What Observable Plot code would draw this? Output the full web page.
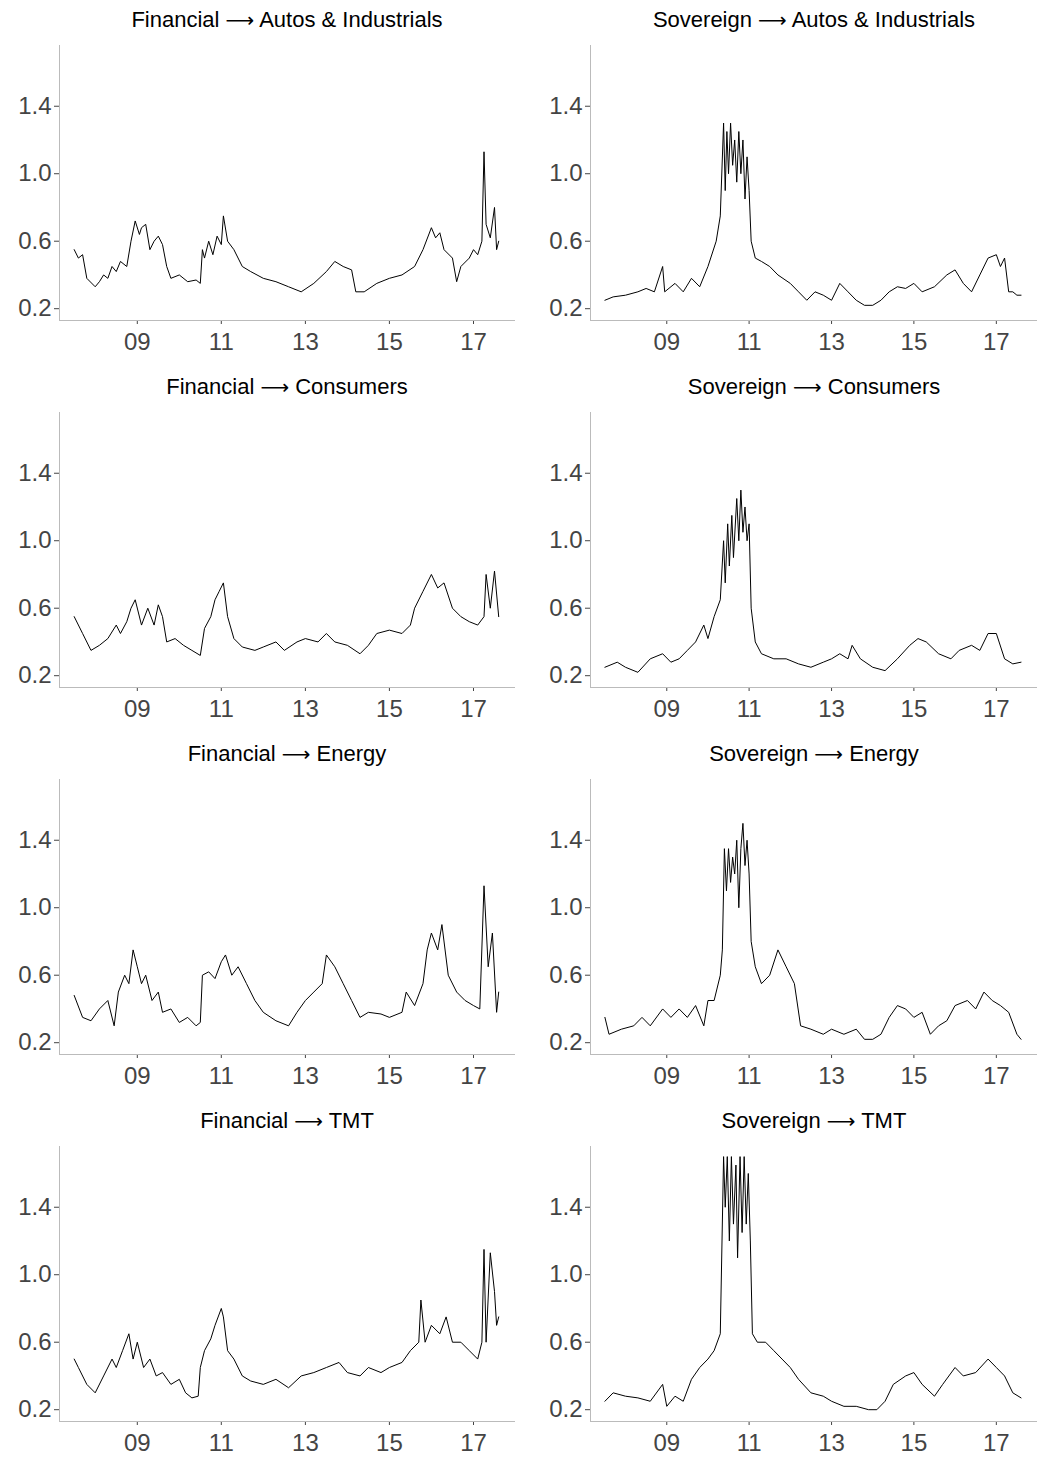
<!DOCTYPE html>
<html><head><meta charset="utf-8">
<script src="https://cdn.jsdelivr.net/npm/d3@7"></script>
<script src="https://cdn.jsdelivr.net/npm/@observablehq/plot@0.6"></script>
<style>
body{margin:0;background:#fff;font-family:Arial,"Liberation Sans",sans-serif;}
#grid{display:grid;grid-template-columns:519px 519px;width:1038px;}
.panel{height:367px;}
.title{height:38px;line-height:40px;text-align:center;font-size:22px;color:#000;}
.title .arr{font-family:"DejaVu Sans",sans-serif;font-size:20px}
.panel.l .title{padding-left:59px;padding-right:4px}
.panel.r .title{padding-left:71px}
</style></head><body><div id="grid"></div>
<script>
const titleFrom=["Financial","Sovereign","Financial","Sovereign","Financial","Sovereign","Financial","Sovereign"];
const titleTo=["Autos & Industrials","Autos & Industrials","Consumers","Consumers","Energy","Energy","TMT","TMT"];
const yTicks=[0.2,0.6,1.0,1.4];
const xTickYears=[2009,2011,2013,2015,2017];
const finAutos=[[2007.5,0.55],[2007.6,0.5],[2007.7,0.52],[2007.8,0.38],[2008.0,0.33],[2008.1,0.36],[2008.2,0.4],[2008.3,0.38],[2008.4,0.45],[2008.5,0.42],[2008.6,0.48],[2008.75,0.45],[2008.85,0.6],[2008.95,0.72],[2009.05,0.64],[2009.1,0.68],[2009.2,0.7],[2009.3,0.55],[2009.4,0.6],[2009.5,0.63],[2009.6,0.58],[2009.7,0.45],[2009.8,0.38],[2010.0,0.4],[2010.2,0.36],[2010.4,0.37],[2010.5,0.35],[2010.55,0.55],[2010.6,0.5],[2010.7,0.6],[2010.8,0.52],[2010.9,0.63],[2011.0,0.58],[2011.05,0.75],[2011.15,0.6],[2011.3,0.55],[2011.5,0.45],[2011.7,0.42],[2012.0,0.38],[2012.3,0.36],[2012.6,0.33],[2012.9,0.3],[2013.2,0.35],[2013.5,0.42],[2013.7,0.48],[2013.9,0.45],[2014.1,0.43],[2014.2,0.3],[2014.4,0.3],[2014.7,0.35],[2015.0,0.38],[2015.3,0.4],[2015.6,0.45],[2015.8,0.55],[2016.0,0.68],[2016.1,0.62],[2016.2,0.65],[2016.3,0.55],[2016.5,0.5],[2016.6,0.36],[2016.7,0.45],[2016.9,0.5],[2017.0,0.55],[2017.1,0.52],[2017.2,0.6],[2017.25,1.13],[2017.3,0.7],[2017.4,0.62],[2017.5,0.8],[2017.55,0.55],[2017.6,0.6]];
const sovAutos=[[2007.5,0.25],[2007.7,0.27],[2008.0,0.28],[2008.3,0.3],[2008.5,0.32],[2008.7,0.3],[2008.9,0.45],[2008.95,0.3],[2009.2,0.35],[2009.4,0.3],[2009.6,0.38],[2009.8,0.33],[2010.0,0.45],[2010.2,0.6],[2010.3,0.75],[2010.38,1.3],[2010.42,0.9],[2010.46,1.25],[2010.5,1.0],[2010.55,1.3],[2010.6,1.05],[2010.65,1.2],[2010.7,0.95],[2010.75,1.25],[2010.8,1.0],[2010.85,1.2],[2010.9,0.85],[2010.95,1.1],[2011.0,0.9],[2011.05,0.6],[2011.15,0.5],[2011.3,0.48],[2011.5,0.45],[2011.7,0.4],[2012.0,0.35],[2012.2,0.3],[2012.4,0.25],[2012.6,0.3],[2012.8,0.28],[2013.0,0.25],[2013.2,0.35],[2013.4,0.3],[2013.6,0.25],[2013.8,0.22],[2014.0,0.22],[2014.2,0.25],[2014.4,0.3],[2014.6,0.33],[2014.8,0.32],[2015.0,0.35],[2015.2,0.3],[2015.5,0.33],[2015.8,0.4],[2016.0,0.43],[2016.2,0.35],[2016.4,0.3],[2016.6,0.4],[2016.8,0.5],[2017.0,0.52],[2017.1,0.45],[2017.2,0.5],[2017.3,0.3],[2017.4,0.3],[2017.5,0.28],[2017.6,0.28]];
const finCons=[[2007.5,0.55],[2007.7,0.45],[2007.9,0.35],[2008.1,0.38],[2008.3,0.42],[2008.5,0.5],[2008.6,0.45],[2008.75,0.52],[2008.85,0.6],[2008.95,0.65],[2009.1,0.5],[2009.25,0.6],[2009.4,0.5],[2009.5,0.62],[2009.6,0.55],[2009.7,0.4],[2009.9,0.42],[2010.1,0.38],[2010.3,0.35],[2010.5,0.32],[2010.6,0.48],[2010.75,0.55],[2010.85,0.65],[2010.95,0.7],[2011.05,0.75],[2011.15,0.55],[2011.3,0.42],[2011.5,0.37],[2011.8,0.35],[2012.0,0.37],[2012.3,0.4],[2012.5,0.35],[2012.8,0.4],[2013.0,0.42],[2013.3,0.4],[2013.5,0.45],[2013.7,0.4],[2014.0,0.38],[2014.3,0.33],[2014.5,0.38],[2014.7,0.45],[2015.0,0.47],[2015.3,0.45],[2015.5,0.5],[2015.6,0.6],[2015.8,0.7],[2016.0,0.8],[2016.15,0.72],[2016.3,0.75],[2016.5,0.6],[2016.7,0.55],[2016.9,0.52],[2017.1,0.5],[2017.25,0.55],[2017.3,0.8],[2017.4,0.6],[2017.5,0.82],[2017.6,0.55]];
const sovCons=[[2007.5,0.25],[2007.8,0.28],[2008.0,0.25],[2008.3,0.22],[2008.6,0.3],[2008.9,0.33],[2009.1,0.28],[2009.3,0.3],[2009.5,0.35],[2009.7,0.4],[2009.9,0.5],[2010.0,0.42],[2010.15,0.55],[2010.3,0.65],[2010.38,1.0],[2010.42,0.75],[2010.48,1.1],[2010.52,0.85],[2010.58,1.15],[2010.62,0.9],[2010.7,1.25],[2010.75,1.0],[2010.8,1.3],[2010.85,1.05],[2010.9,1.2],[2010.95,1.0],[2011.0,1.1],[2011.05,0.6],[2011.15,0.4],[2011.3,0.33],[2011.6,0.3],[2011.9,0.3],[2012.2,0.27],[2012.5,0.25],[2012.8,0.28],[2013.0,0.3],[2013.2,0.33],[2013.4,0.3],[2013.5,0.38],[2013.7,0.3],[2014.0,0.25],[2014.3,0.23],[2014.6,0.3],[2014.9,0.38],[2015.1,0.42],[2015.3,0.4],[2015.6,0.33],[2015.9,0.3],[2016.1,0.35],[2016.4,0.38],[2016.6,0.35],[2016.8,0.45],[2017.0,0.45],[2017.2,0.3],[2017.4,0.27],[2017.6,0.28]];
const finEnergy=[[2007.5,0.48],[2007.7,0.35],[2007.9,0.33],[2008.1,0.4],[2008.3,0.45],[2008.45,0.3],[2008.55,0.5],[2008.7,0.6],[2008.8,0.55],[2008.9,0.75],[2009.0,0.65],[2009.1,0.55],[2009.2,0.6],[2009.35,0.45],[2009.5,0.5],[2009.6,0.38],[2009.8,0.4],[2010.0,0.32],[2010.2,0.35],[2010.4,0.3],[2010.5,0.32],[2010.55,0.6],[2010.7,0.62],[2010.85,0.58],[2011.0,0.68],[2011.1,0.72],[2011.25,0.6],[2011.4,0.65],[2011.6,0.55],[2011.8,0.45],[2012.0,0.38],[2012.3,0.33],[2012.6,0.3],[2012.8,0.38],[2013.0,0.45],[2013.2,0.5],[2013.4,0.55],[2013.5,0.72],[2013.7,0.65],[2013.9,0.55],[2014.1,0.45],[2014.3,0.35],[2014.5,0.38],[2014.8,0.37],[2015.0,0.35],[2015.3,0.38],[2015.4,0.5],[2015.6,0.42],[2015.8,0.55],[2015.9,0.75],[2016.0,0.85],[2016.15,0.75],[2016.25,0.9],[2016.4,0.6],[2016.6,0.5],[2016.8,0.45],[2017.0,0.42],[2017.15,0.4],[2017.25,1.13],[2017.35,0.65],[2017.45,0.85],[2017.55,0.38],[2017.6,0.5]];
const sovEnergy=[[2007.5,0.35],[2007.6,0.25],[2007.9,0.28],[2008.2,0.3],[2008.4,0.35],[2008.6,0.3],[2008.9,0.4],[2009.1,0.35],[2009.3,0.4],[2009.5,0.35],[2009.7,0.42],[2009.9,0.3],[2010.0,0.45],[2010.15,0.45],[2010.3,0.6],[2010.35,0.75],[2010.4,1.35],[2010.45,1.1],[2010.5,1.35],[2010.55,1.15],[2010.6,1.3],[2010.65,1.2],[2010.7,1.4],[2010.75,1.0],[2010.8,1.35],[2010.85,1.5],[2010.9,1.25],[2010.95,1.4],[2011.0,1.2],[2011.05,0.8],[2011.15,0.65],[2011.3,0.55],[2011.5,0.6],[2011.7,0.75],[2011.9,0.65],[2012.1,0.55],[2012.25,0.3],[2012.5,0.28],[2012.8,0.25],[2013.0,0.28],[2013.3,0.25],[2013.6,0.28],[2013.8,0.22],[2014.0,0.22],[2014.2,0.25],[2014.4,0.35],[2014.6,0.42],[2014.8,0.4],[2015.0,0.35],[2015.2,0.38],[2015.4,0.25],[2015.6,0.3],[2015.8,0.33],[2016.0,0.42],[2016.3,0.45],[2016.5,0.4],[2016.7,0.5],[2016.9,0.45],[2017.1,0.42],[2017.3,0.38],[2017.5,0.25],[2017.6,0.22]];
const finTMT=[[2007.5,0.5],[2007.6,0.45],[2007.8,0.35],[2008.0,0.3],[2008.2,0.4],[2008.4,0.5],[2008.5,0.45],[2008.65,0.55],[2008.8,0.65],[2008.9,0.5],[2009.0,0.6],[2009.15,0.45],[2009.3,0.5],[2009.45,0.4],[2009.6,0.42],[2009.8,0.35],[2010.0,0.38],[2010.15,0.3],[2010.3,0.27],[2010.45,0.28],[2010.5,0.45],[2010.6,0.55],[2010.75,0.62],[2010.85,0.7],[2011.0,0.8],[2011.05,0.75],[2011.15,0.55],[2011.3,0.5],[2011.5,0.4],[2011.7,0.37],[2012.0,0.35],[2012.3,0.38],[2012.6,0.33],[2012.9,0.4],[2013.2,0.42],[2013.5,0.45],[2013.8,0.48],[2014.0,0.42],[2014.3,0.4],[2014.5,0.45],[2014.8,0.42],[2015.0,0.45],[2015.3,0.48],[2015.5,0.55],[2015.7,0.6],[2015.75,0.85],[2015.85,0.6],[2016.0,0.7],[2016.2,0.65],[2016.35,0.75],[2016.5,0.6],[2016.7,0.6],[2016.9,0.55],[2017.1,0.5],[2017.2,0.6],[2017.25,1.15],[2017.3,0.6],[2017.4,1.13],[2017.5,0.9],[2017.55,0.7],[2017.6,0.75]];
const sovTMT=[[2007.5,0.25],[2007.7,0.3],[2008.0,0.28],[2008.3,0.27],[2008.6,0.25],[2008.9,0.35],[2009.0,0.22],[2009.2,0.28],[2009.4,0.25],[2009.6,0.38],[2009.8,0.45],[2010.0,0.5],[2010.15,0.55],[2010.3,0.65],[2010.38,1.7],[2010.42,1.4],[2010.47,1.7],[2010.52,1.2],[2010.57,1.7],[2010.62,1.3],[2010.68,1.65],[2010.72,1.1],[2010.78,1.7],[2010.83,1.25],[2010.88,1.7],[2010.93,1.3],[2010.98,1.6],[2011.03,1.2],[2011.08,0.65],[2011.2,0.6],[2011.4,0.6],[2011.6,0.55],[2011.8,0.5],[2012.0,0.45],[2012.2,0.38],[2012.5,0.3],[2012.8,0.28],[2013.0,0.25],[2013.3,0.22],[2013.6,0.22],[2013.9,0.2],[2014.1,0.2],[2014.3,0.25],[2014.5,0.35],[2014.8,0.4],[2015.0,0.42],[2015.2,0.35],[2015.5,0.28],[2015.7,0.35],[2016.0,0.45],[2016.2,0.4],[2016.5,0.42],[2016.8,0.5],[2017.0,0.45],[2017.2,0.4],[2017.4,0.3],[2017.6,0.27]];
const series=[finAutos,sovAutos,finCons,sovCons,finEnergy,sovEnergy,finTMT,sovTMT];
const toDate=y=>{const yr=Math.floor(y);const s=Date.UTC(yr,0,1),e=Date.UTC(yr+1,0,1);return new Date(s+(y-yr)*(e-s));};
const grid=document.getElementById("grid");
series.forEach((s,i)=>{
  const right=i%2===1;
  const div=document.createElement("div");div.className="panel "+(right?"r":"l");
  const t=document.createElement("div");t.className="title";
  t.append(titleFrom[i]+" ");
  const a=document.createElement("span");a.className="arr";a.textContent="⟶";t.appendChild(a);
  t.append(" "+titleTo[i]);
  div.appendChild(t);
  const data=s.map(([x,v])=>({date:toDate(x),v}));
  const p=Plot.plot({
    width:519,height:329,marginTop:7,marginBottom:47,marginLeft:right?71:59,marginRight:right?1:4,
    style:{fontFamily:"Arial, 'Liberation Sans', sans-serif",fontSize:"24px",color:"#444",background:"#fff"},
    x:{type:"utc",domain:[toDate(2007.15),toDate(2018.0)],ticks:xTickYears.map(y=>toDate(y)),tickFormat:d3.utcFormat("%y"),label:null,tickSize:4,tickPadding:8},
    y:{domain:[0.13,1.76],ticks:yTicks,tickFormat:d3.format(".1f"),label:null,tickSize:5,tickPadding:3},
    marks:[
      Plot.ruleX([toDate(2007.15)],{stroke:"#bbb"}),
      Plot.ruleY([0.13],{stroke:"#bbb"}),
      Plot.line(data,{x:"date",y:"v",stroke:"#000",strokeWidth:1})
    ]
  });
  div.appendChild(p);grid.appendChild(div);
});
</script></body></html>
